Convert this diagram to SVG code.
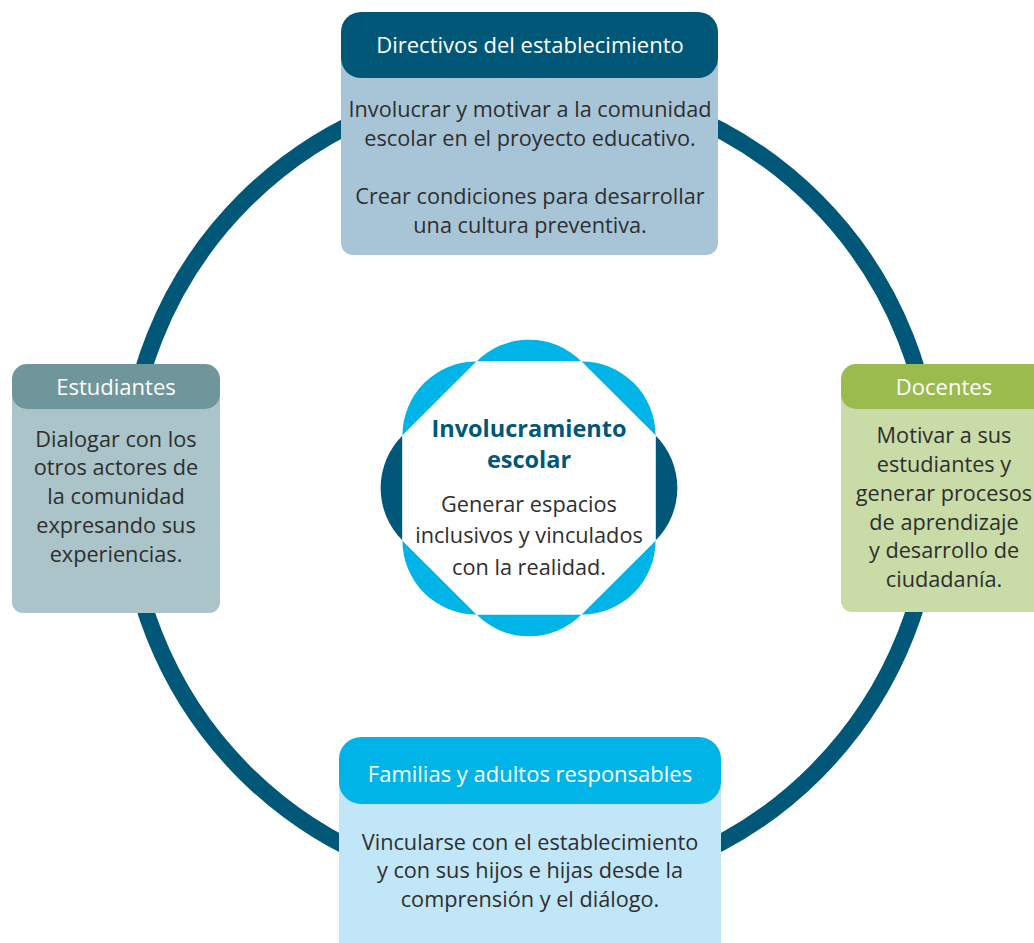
<svg xmlns="http://www.w3.org/2000/svg" width="1034" height="943" viewBox="0 0 1034 943">
<style>
  text { font-family: "Open Sans", "Noto Sans", "Liberation Sans", sans-serif; text-anchor: middle; }
  .hd { fill: #ffffff; font-size: 22px; }
  .bd { fill: #2e2e2e; font-size: 21.7px; }
  .ttl { fill: #005778; font-size: 23.5px; font-weight: bold; }
  .light { fill: #00b4e8; }
  .dark { fill: #005778; }
</style>
<rect width="1034" height="943" fill="#ffffff"/>
<g id="connectors">
  <circle cx="530" cy="486.5" r="404" fill="none" stroke="#005778" stroke-width="17"/>
</g>
<g id="center">
  <path class="dark" d="M655.57,435.57 A74,74 0 0 1 655.57,540.43 Z"/>
  <path class="light" d="M655.57,540.43 A74,74 0 0 1 581.43,614.57 Z"/>
  <path class="light" d="M581.43,614.57 A74,74 0 0 1 476.57,614.57 Z"/>
  <path class="light" d="M476.57,614.57 A74,74 0 0 1 402.43,540.43 Z"/>
  <path class="dark" d="M402.43,540.43 A74,74 0 0 1 402.43,435.57 Z"/>
  <path class="light" d="M402.43,435.57 A74,74 0 0 1 476.57,361.43 Z"/>
  <path class="light" d="M476.57,361.43 A74,74 0 0 1 581.43,361.43 Z"/>
  <path class="light" d="M581.43,361.43 A74,74 0 0 1 655.57,435.57 Z"/>
  <polygon fill="#ffffff" points="655.57,540.43 581.43,614.57 476.57,614.57 402.43,540.43 402.43,435.57 476.57,361.43 581.43,361.43 655.57,435.57"/>
  <text class="ttl" x="529" y="437">Involucramiento</text>
  <text class="ttl" x="529" y="468">escolar</text>
  <text class="bd" x="529" y="512">Generar espacios</text>
  <text class="bd" x="529" y="543">inclusivos y vinculados</text>
  <text class="bd" x="529" y="575">con la realidad.</text>
</g>
<g id="directivos">
  <rect x="341" y="40" width="377" height="215" rx="12" fill="#a8c5d8"/>
  <rect x="341" y="12" width="377" height="66" rx="20" fill="#005778"/>
  <text class="hd" x="530" y="53">Directivos del establecimiento</text>
  <text class="bd" x="530" y="117">Involucrar y motivar a la comunidad</text>
  <text class="bd" x="530" y="146">escolar en el proyecto educativo.</text>
  <text class="bd" x="530" y="204">Crear condiciones para desarrollar</text>
  <text class="bd" x="530" y="233">una cultura preventiva.</text>
</g>
<g id="estudiantes">
  <rect x="12" y="385" width="208" height="228" rx="11" fill="#abc4ca"/>
  <rect x="12" y="364" width="208" height="45" rx="15" fill="#6e969b"/>
  <text class="hd" x="116" y="395">Estudiantes</text>
  <text class="bd" x="116" y="447">Dialogar con los</text>
  <text class="bd" x="116" y="475">otros actores de</text>
  <text class="bd" x="116" y="504">la comunidad</text>
  <text class="bd" x="116" y="533">expresando sus</text>
  <text class="bd" x="116" y="562">experiencias.</text>
</g>
<g id="docentes">
  <rect x="841" y="385" width="210" height="227" rx="11" fill="#c9dba6"/>
  <rect x="841" y="364" width="210" height="45" rx="15" fill="#9bbb4f"/>
  <text class="hd" x="944" y="395">Docentes</text>
  <text class="bd" x="944" y="443">Motivar a sus</text>
  <text class="bd" x="944" y="472">estudiantes y</text>
  <text class="bd" x="944" y="501">generar procesos</text>
  <text class="bd" x="944" y="530">de aprendizaje</text>
  <text class="bd" x="944" y="558">y desarrollo de</text>
  <text class="bd" x="944" y="587">ciudadanía.</text>
</g>
<g id="familias">
  <rect x="339" y="765" width="382" height="200" rx="12" fill="#c1e6f7"/>
  <rect x="339" y="737" width="382" height="67" rx="22" fill="#00b4e8"/>
  <text class="hd" x="530" y="782">Familias y adultos responsables</text>
  <text class="bd" x="530" y="850">Vincularse con el establecimiento</text>
  <text class="bd" x="530" y="878">y con sus hijos e hijas desde la</text>
  <text class="bd" x="530" y="907">comprensión y el diálogo.</text>
</g>
</svg>
